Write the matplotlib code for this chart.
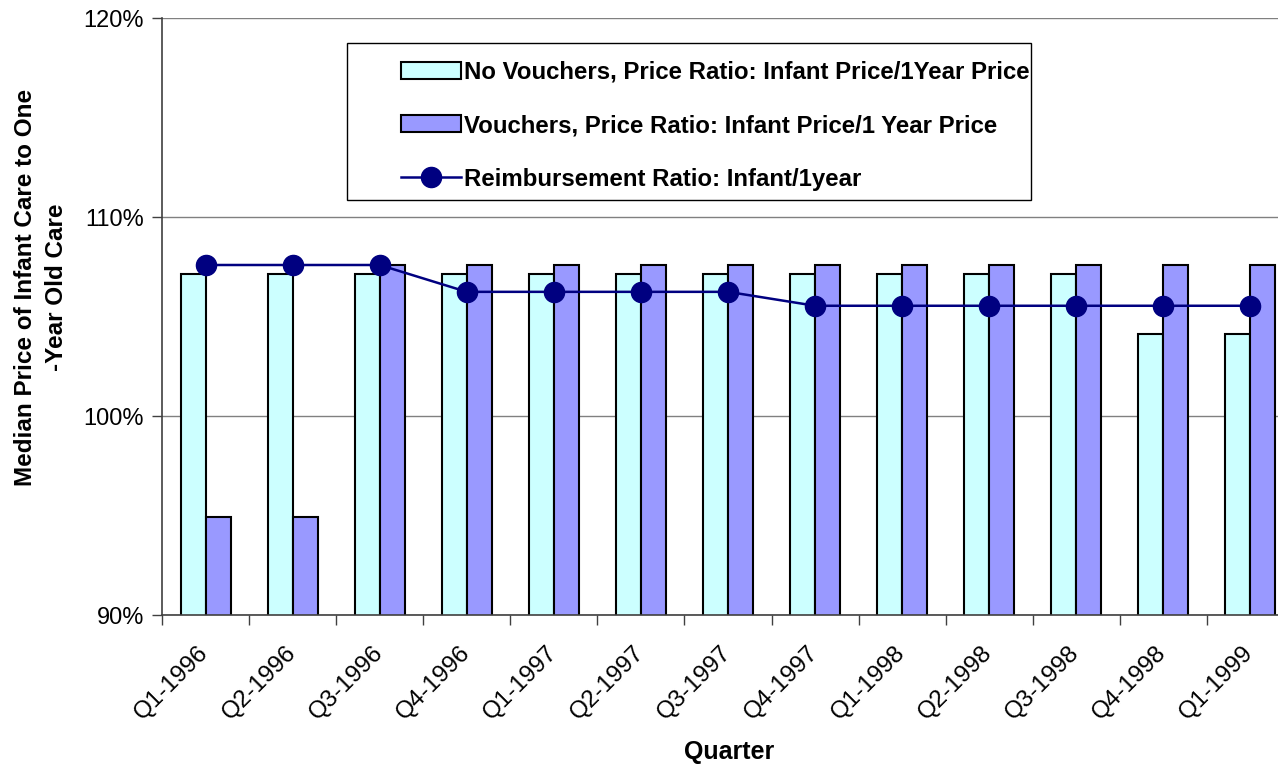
import matplotlib
matplotlib.use("Agg")
import matplotlib.pyplot as plt
import numpy as np
from matplotlib.ticker import PercentFormatter, MultipleLocator
from matplotlib.patches import Rectangle
from matplotlib.transforms import ScaledTranslation

quarters = ["Q1-1996", "Q2-1996", "Q3-1996", "Q4-1996", "Q1-1997", "Q2-1997",
            "Q3-1997", "Q4-1997", "Q1-1998", "Q2-1998", "Q3-1998", "Q4-1998", "Q1-1999"]
no_vouchers = [107.15, 107.15, 107.15, 107.15, 107.15, 107.15, 107.15,
               107.15, 107.15, 107.15, 107.15, 104.15, 104.15]
vouchers = [94.95, 94.95, 107.6, 107.6, 107.6, 107.6, 107.6,
            107.6, 107.6, 107.6, 107.6, 107.6, 107.6]
reimbursement = [107.6, 107.6, 107.6, 106.25, 106.25, 106.25, 106.25,
                 105.55, 105.55, 105.55, 105.55, 105.55, 105.55]

plt.rcParams['font.family'] = ['Liberation Sans', 'DejaVu Sans']

W, H = 1278, 767
fig = plt.figure(figsize=(W / 100, H / 100), dpi=100)
left, right, bottom, top = 162, 1294, 615, 18.4
ax = fig.add_axes([left / W, 1 - bottom / H, (right - left) / W, (bottom - top) / H])

x = np.arange(len(quarters))
w = 0.2875
b1 = ax.bar(x - w / 2, no_vouchers, width=w, color="#CCFFFF", edgecolor="black",
            linewidth=1.5, label="No Vouchers, Price Ratio: Infant Price/1Year Price", zorder=2)
b2 = ax.bar(x + w / 2, vouchers, width=w, color="#9999FF", edgecolor="black",
            linewidth=1.5, label="Vouchers, Price Ratio: Infant Price/1 Year Price", zorder=2)
ln, = ax.plot(x, reimbursement, color="#000080", linewidth=1.8, marker="o",
              markersize=14.5, markerfacecolor="#000080", markeredgecolor="#000080",
              label="Reimbursement Ratio: Infant/1year", zorder=3)

ax.set_xlim(-0.5, len(quarters) - 0.5)
ax.set_ylim(90, 120)
ax.yaxis.set_major_locator(MultipleLocator(10))
ax.yaxis.set_major_formatter(PercentFormatter(decimals=0))
ax.grid(axis="y", color="#808080", linewidth=1.0, zorder=0)
ax.set_axisbelow(True)

ax.set_xticks(np.arange(len(quarters) + 1) - 0.5)
ax.set_xticklabels([])
ax.tick_params(axis="x", length=7, width=1, color="#404040", direction="out")
ax.tick_params(axis="y", length=7, width=1, color="#404040", labelsize=17, pad=6)

# category labels, rotated 45 degrees, placed under each category centre
off = ScaledTranslation(-8 / 100, -27 / 100, fig.dpi_scale_trans)
for xi, q in zip(x, quarters):
    ax.text(xi, 0, q, transform=ax.get_xaxis_transform() + off, rotation=45,
            rotation_mode="anchor", ha="right", va="top", fontsize=17.5)

for s in ["top", "right"]:
    ax.spines[s].set_visible(False)
for s in ["left", "bottom"]:
    ax.spines[s].set_color("#404040")
    ax.spines[s].set_linewidth(1.2)

fig.text(729 / W, 1 - 752 / H, "Quarter", ha="center", va="center",
         fontsize=18, fontweight="bold")
fig.text(41 / W, 1 - 287 / H, "Median Price of Infant Care to One\n-Year Old Care",
         rotation=90, ha="center", va="center", fontsize=17.5, fontweight="bold",
         linespacing=1.45, multialignment="center")

# legend frame
fig.patches.append(Rectangle((347 / W, 1 - 200 / H), (1031 - 347) / W, (200 - 43) / H,
                             transform=fig.transFigure, facecolor="white",
                             edgecolor="black", linewidth=1.0, zorder=4))
leg = fig.legend([b1, b2, ln], [b1.get_label(), b2.get_label(), ln.get_label()],
                 loc="upper left", bbox_to_anchor=(401 / W, 1 - 61 / H),
                 bbox_transform=fig.transFigure,
                 prop={"weight": "bold", "size": 17.3}, frameon=False,
                 borderpad=0, labelspacing=1.26, handlelength=2.5,
                 handletextpad=0.13, borderaxespad=0)
leg.set_zorder(5)

fig.savefig("out.png", dpi=100)
